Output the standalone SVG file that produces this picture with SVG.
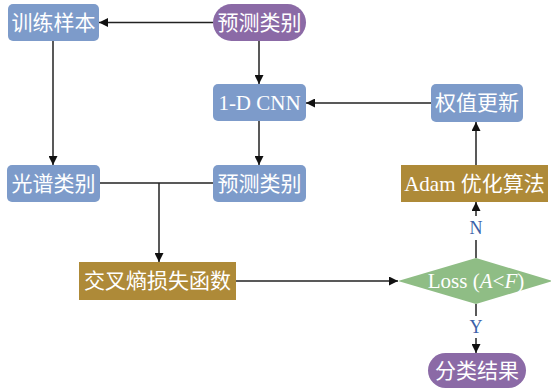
<svg xmlns="http://www.w3.org/2000/svg" width="551" height="389" viewBox="0 0 551 389">
<defs>
<marker id="ah" viewBox="0 0 10 10" refX="10" refY="5" markerWidth="9" markerHeight="9" markerUnits="userSpaceOnUse" orient="auto">
<path d="M0,0 L10,5 L0,10 z" fill="#111"/>
</marker>
<style>
.blue{fill:#7d9bca}
.purple{fill:#8b6aa6}
.gold{fill:#ae8a38}
.green{fill:#8fbd85}
.t{font-family:"Liberation Serif","Noto Sans CJK SC",serif;font-size:21px;fill:#fff;text-anchor:middle;dominant-baseline:central}
.lbl{font-family:"Liberation Serif",serif;font-size:18px;fill:#3b5fa8;text-anchor:middle;dominant-baseline:central}
.c{stroke:#222;stroke-width:1.5;fill:none}
</style>
</defs>
<rect width="551" height="389" fill="#fff"/>
<g id="connectors">
<line class="c" x1="213" y1="22.5" x2="99" y2="22.5" marker-end="url(#ah)"/>
<line class="c" x1="259" y1="41" x2="259" y2="84" marker-end="url(#ah)"/>
<line class="c" x1="431" y1="103" x2="306" y2="103" marker-end="url(#ah)"/>
<line class="c" x1="53" y1="41" x2="53" y2="165" marker-end="url(#ah)"/>
<line class="c" x1="259" y1="121" x2="259" y2="165" marker-end="url(#ah)"/>
<polyline class="c" points="100,183 213,183"/>
<line class="c" x1="159" y1="183" x2="159" y2="262" marker-end="url(#ah)"/>
<line class="c" x1="236" y1="281" x2="398" y2="281" marker-end="url(#ah)"/>
<line class="c" x1="476" y1="165" x2="476" y2="122" marker-end="url(#ah)"/>
<line class="c" x1="476" y1="258" x2="476" y2="240"/>
<line class="c" x1="476" y1="216" x2="476" y2="202" marker-end="url(#ah)"/>
<text class="lbl" x="476" y="228">N</text>
<line class="c" x1="476" y1="304" x2="476" y2="316"/>
<line class="c" x1="476" y1="338" x2="476" y2="353" marker-end="url(#ah)"/>
<text class="lbl" x="476" y="327">Y</text>
</g>
<g id="n_train"><rect class="blue" x="8" y="4" width="91" height="37" rx="5"/><text class="t" x="53.5" y="22.5">训练样本</text></g>
<g id="n_pred_top"><rect class="purple" x="213" y="4" width="93" height="37" rx="18.5"/><text class="t" x="259.5" y="22.5">预测类别</text></g>
<g id="n_cnn"><rect class="blue" x="213" y="84" width="93" height="37" rx="5"/><text class="t" x="259.5" y="102.5">1-D CNN</text></g>
<g id="n_weight"><rect class="blue" x="431" y="84" width="92" height="38" rx="5"/><text class="t" x="477" y="103">权值更新</text></g>
<g id="n_spec"><rect class="blue" x="7" y="165" width="93" height="37" rx="5"/><text class="t" x="53.5" y="183.5">光谱类别</text></g>
<g id="n_pred"><rect class="blue" x="213" y="165" width="93" height="37" rx="5"/><text class="t" x="259.5" y="183.5">预测类别</text></g>
<g id="n_adam"><rect class="gold" x="401" y="165" width="147" height="37"/><text class="t" x="474.5" y="183.5">Adam 优化算法</text></g>
<g id="n_loss_fn"><rect class="gold" x="79" y="262" width="157" height="38"/><text class="t" x="157.5" y="281">交叉熵损失函数</text></g>
<g id="n_loss"><polygon class="green" points="398,281 476,258 553,281 476,304"/><text class="t" x="476" y="281">Loss (<tspan font-style="italic">A</tspan>&lt;<tspan font-style="italic">F</tspan>)</text></g>
<g id="n_result"><rect class="purple" x="428" y="353" width="98" height="35" rx="17.5"/><text class="t" x="477" y="370.5">分类结果</text></g>
</svg>
